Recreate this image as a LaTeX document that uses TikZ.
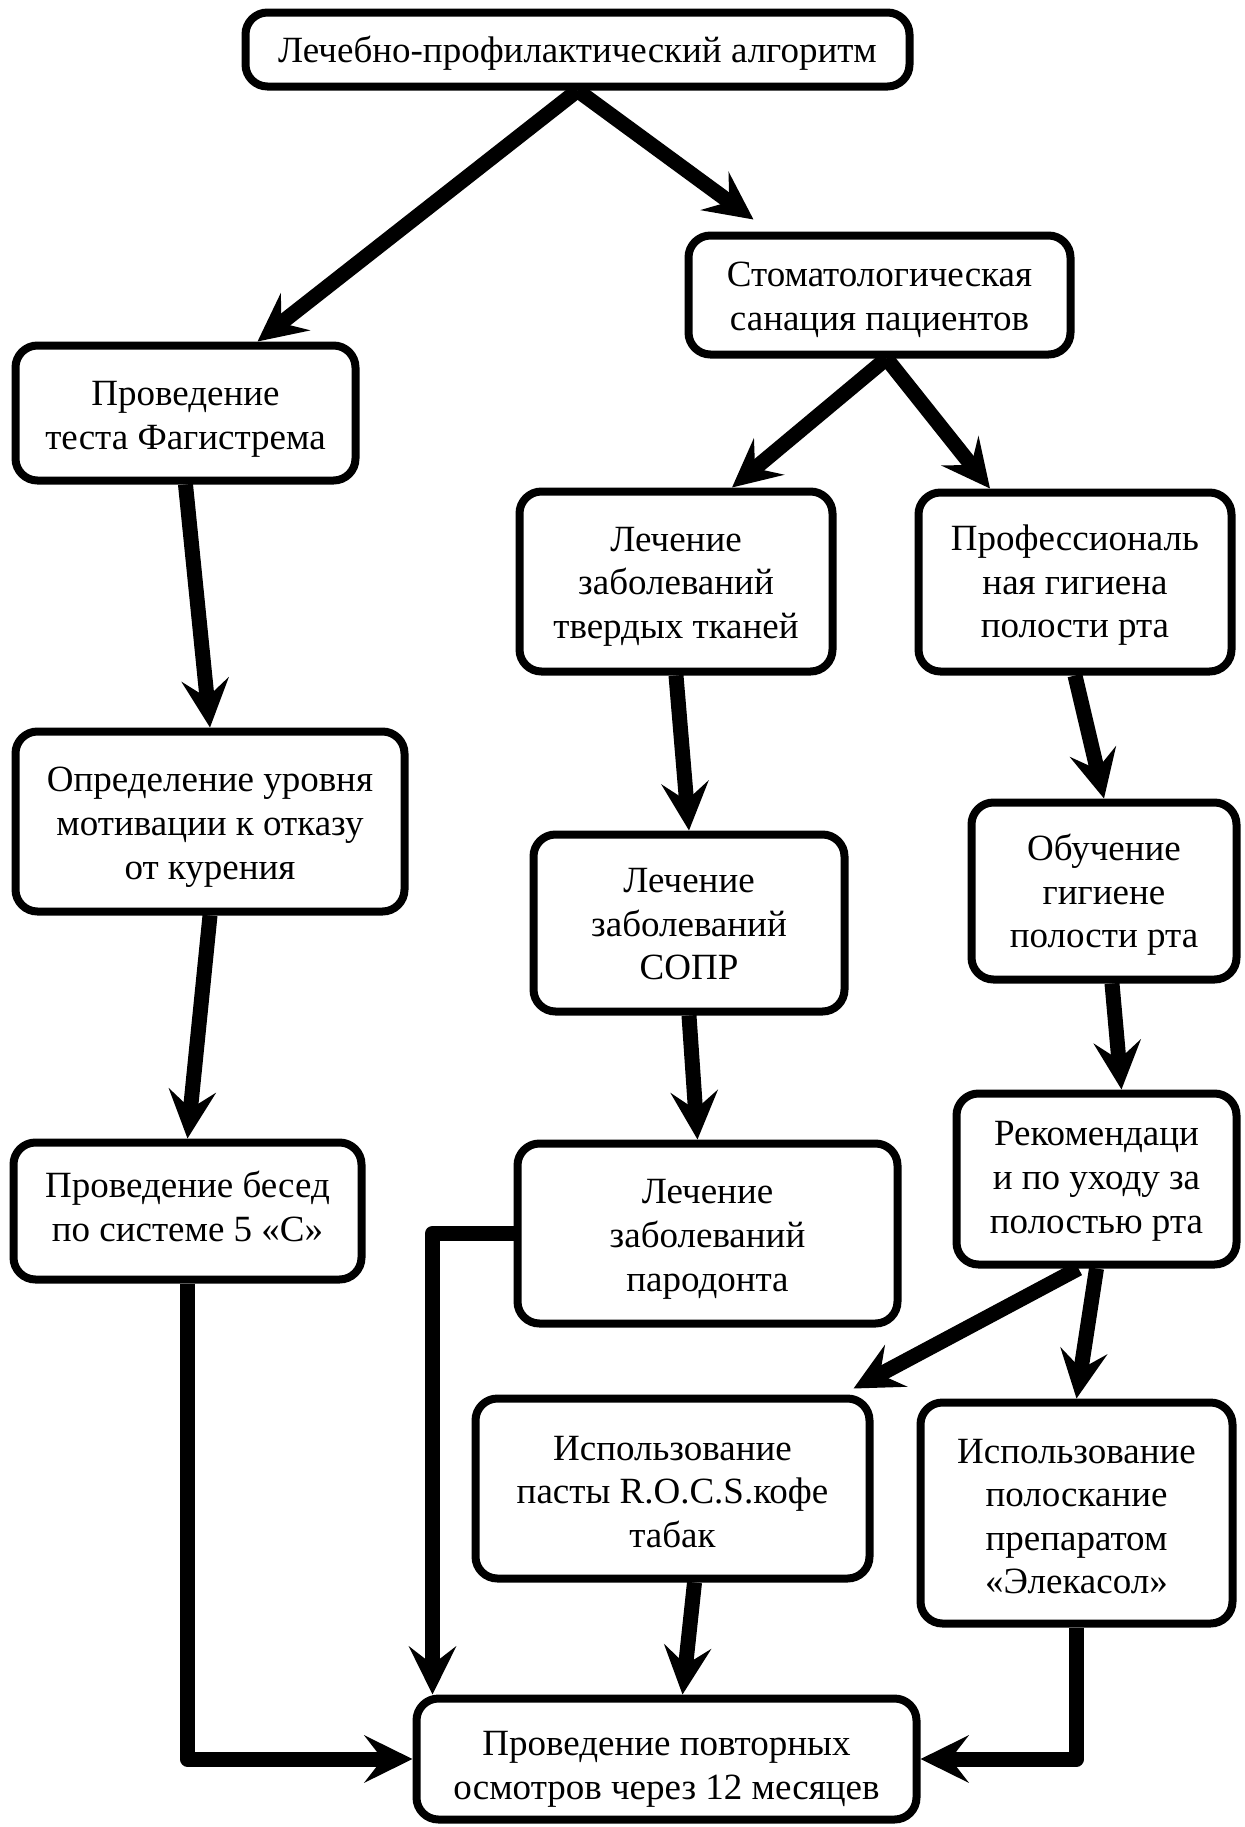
\documentclass[tikz,border=0pt]{standalone}
\usepackage{fontspec}
\setmainfont{Liberation Serif}
\usetikzlibrary{arrows.meta,calc}
\newcommand\boxtext[2][-2.4pt]{\raisebox{#1}[\height][\depth]{\begin{tabular}{@{}c@{}}#2\end{tabular}}}
\tikzset{
 box/.style={draw, line width=4pt, rounded corners=11pt, inner sep=0pt, fill=white, font=\fontsize{18.5}{21.8}\selectfont},
 conn/.style={line width=7.5pt, -{Stealth[length=24pt,width=23.5pt,inset=9pt]}, line join=round},
}
\begin{document}
\begin{tikzpicture}[x=0.5pt,y=-0.5pt]
\useasboundingbox (0,0) rectangle (1245,1827);
\node[box, minimum width=332pt, minimum height=37pt] (top) at (577.5,49.5) {\boxtext[-2.2pt]{Лечебно-профилактический алгоритм}};
\node[box, minimum width=191pt, minimum height=59.5pt] (stom) at (879.5,295) {\boxtext[-2.5pt]{Стоматологическая\\санация пациентов}};
\node[box, minimum width=170pt, minimum height=67.5pt] (fag) at (185.5,413) {\boxtext[-2.75pt]{Проведение\\теста Фагистрема}};
\node[box, minimum width=156.5pt, minimum height=90pt] (tverd) at (676,581.5) {\boxtext[-2.3pt]{Лечение\\заболеваний\\твердых тканей}};
\node[box, minimum width=156.5pt, minimum height=89.5pt] (prof) at (1075,582) {\boxtext[-1.8pt]{Профессиональ\\ная гигиена\\полости рта}};
\node[box, minimum width=194.5pt, minimum height=90pt] (motiv) at (210,821.5) {\boxtext[-2.6pt]{Определение уровня\\мотивации к отказу\\от курения}};
\node[box, minimum width=155.5pt, minimum height=88.5pt] (sopr) at (689,923) {\boxtext[-2.2pt]{Лечение\\заболеваний\\СОПР}};
\node[box, minimum width=132.5pt, minimum height=88.5pt] (obuch) at (1104,891) {\boxtext[-2.2pt]{Обучение\\гигиене\\полости рта}};
\node[box, minimum width=174pt, minimum height=68.5pt] (besed) at (187.5,1211) {\boxtext[0.2pt]{Проведение бесед\\по системе 5 «С»}};
\node[box, minimum width=190pt, minimum height=90pt] (parod) at (707.5,1233.5) {\boxtext[-2.6pt]{Лечение\\заболеваний\\пародонта}};
\node[box, minimum width=140pt, minimum height=85.5pt] (rekom) at (1096.5,1179) {\boxtext[-0.9pt]{Рекомендаци\\и по уходу за\\полостью рта}};
\node[box, minimum width=197pt, minimum height=90pt] (rocs) at (672.5,1488.5) {\boxtext[-3.3pt]{Использование\\пасты R.O.C.S.кофе\\табак}};
\node[box, minimum width=156pt, minimum height=110.5pt] (elek) at (1076.5,1513) {\boxtext[-3.4pt]{Использование\\полоскание\\препаратом\\«Элекасол»}};
\node[box, minimum width=250pt, minimum height=60.5pt] (osm) at (666.5,1759) {\boxtext[-5pt]{Проведение повторных\\осмотров через 12 месяцев}};

\draw[conn] (top.south) -- ([xshift=36pt]fag.north);
\draw[conn] (top.south) -- ([xshift=-63pt,yshift=6pt]stom.north);
\draw[conn] ([xshift=3.5pt]stom.south) -- ([xshift=28pt]tverd.north);
\draw[conn] ([xshift=3.5pt]stom.south) -- ([xshift=-42.5pt]prof.north);
\draw[conn] (fag.south) -- (motiv.north);
\draw[conn] (motiv.south) -- (besed.north);
\draw[conn] (tverd.south) -- (sopr.north);
\draw[conn] (sopr.south) -- ([xshift=-5pt]parod.north);
\draw[conn] (prof.south) -- (obuch.north);
\draw[conn] ([xshift=4pt]obuch.south) -- ([xshift=12.5pt]rekom.north);
\draw[conn] ([xshift=-9pt]rekom.south) -- ([xshift=-10pt,yshift=3pt]rocs.north east);
\draw[conn] (rekom.south) -- (elek.north);
\draw[conn] ([xshift=11pt]rocs.south) -- ([xshift=8pt]osm.north);
\draw[conn] (besed.south) |- (osm.west);
\draw[conn] (parod.west) -| ([xshift=10pt]osm.north west);
\draw[conn] (elek.south) |- (osm.east);
\end{tikzpicture}
\end{document}
